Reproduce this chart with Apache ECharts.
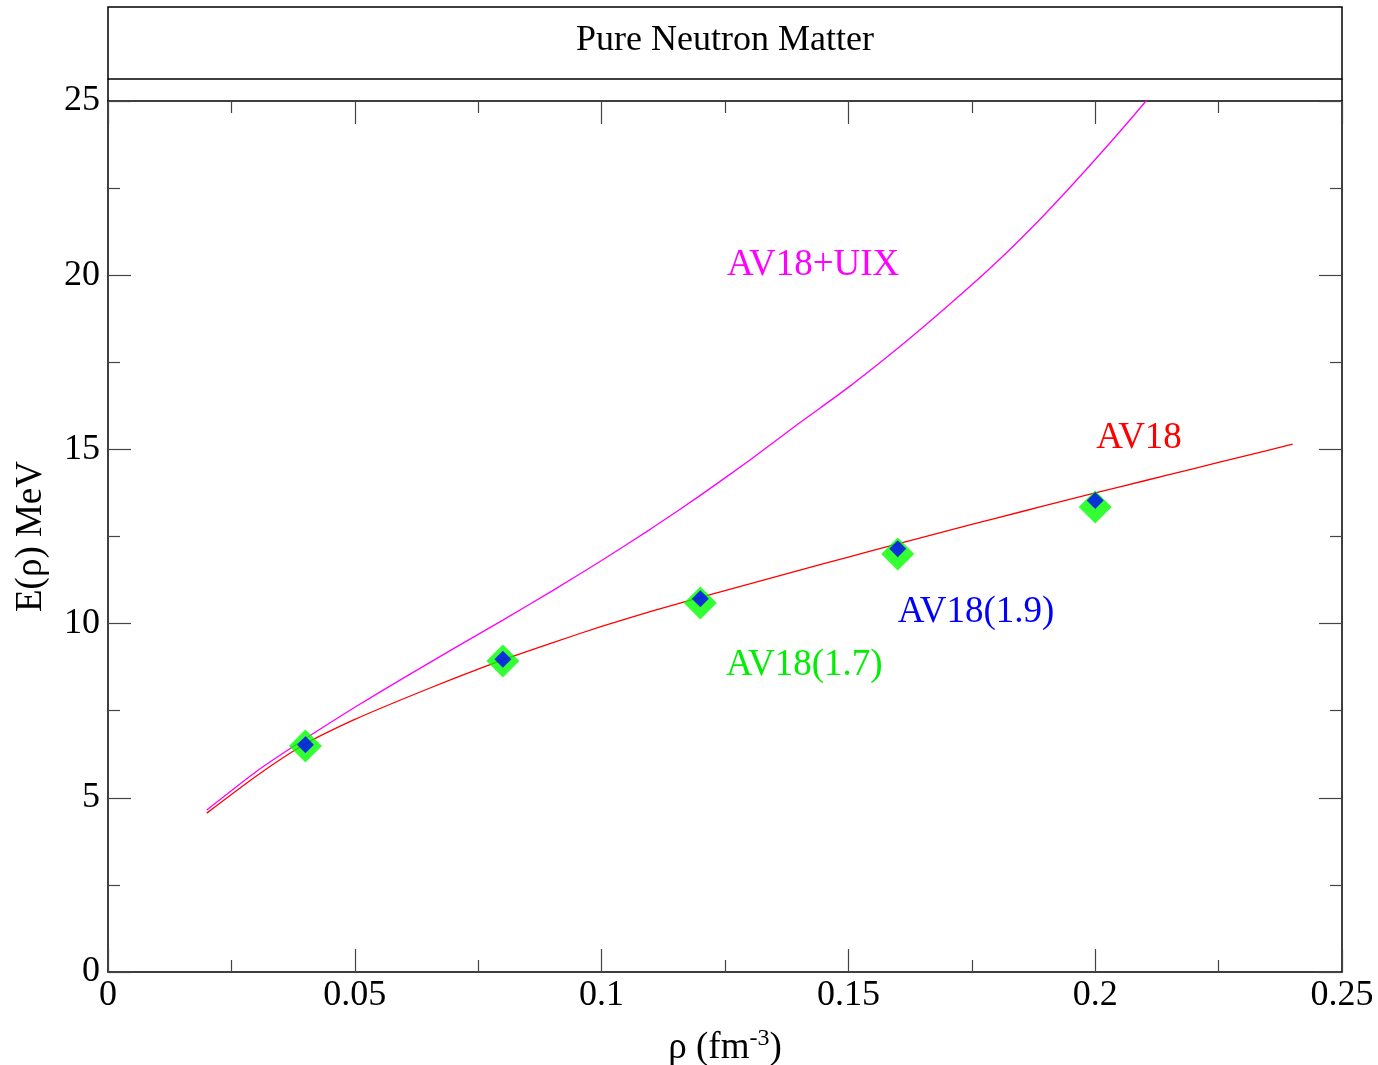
<!doctype html>
<html>
<head>
<meta charset="UTF-8">
<title>Pure Neutron Matter</title>
<script src="https://cdn.jsdelivr.net/npm/echarts@6/dist/echarts.min.js"></script>
<style>
  html, body { margin: 0; padding: 0; background: #fff; }
  #main { width: 1378px; height: 1065px; }
</style>
</head>
<body>
<div id="main"></div>
<script>
// densities (fm^-3) of the curves
var rhoLine = [0.02, 0.03, 0.04, 0.05, 0.06, 0.07, 0.08, 0.09, 0.10, 0.11, 0.12, 0.13,
               0.14, 0.15, 0.16, 0.17, 0.18, 0.19, 0.20, 0.21, 0.22, 0.23, 0.24];
// AV18 (red)
var av18 = [4.56, 5.62, 6.55, 7.25, 7.85, 8.42, 8.96, 9.45, 9.92, 10.35, 10.75, 11.14,
            11.53, 11.91, 12.29, 12.66, 13.03, 13.39, 13.75, 14.10, 14.45, 14.80, 15.15];
// AV18+UIX (magenta), runs out of the frame after 0.21
var rhoUix = [0.02, 0.03, 0.04, 0.05, 0.06, 0.07, 0.08, 0.09, 0.10, 0.11, 0.12, 0.13,
              0.14, 0.15, 0.16, 0.17, 0.18, 0.19, 0.20, 0.21, 0.22];
var av18uix = [4.65, 5.75, 6.70, 7.60, 8.45, 9.28, 10.10, 10.94, 11.81, 12.72, 13.68, 14.69,
               15.75, 16.78, 17.90, 19.10, 20.37, 21.78, 23.32, 24.95, 26.70];

// markers
var rhoPts = [0.04, 0.08, 0.12, 0.16, 0.20];
var av18_17 = [6.49, 8.93, 10.59, 12.00, 13.35];   // green
var av18_19 = [6.52, 8.98, 10.71, 12.15, 13.53];   // blue

// text labels: [text, x, y, colour]
var labels = [
  ['AV18+UIX', 0.1254, 20.29, '#ff00ff'],
  ['AV18', 0.2002, 15.33, '#ff0000'],
  ['AV18(1.9)', 0.1600, 10.33, '#0000ff'],
  ['AV18(1.7)', 0.1252, 8.81, '#00ee00']
];

var FONT = '"Liberation Serif", "Times New Roman", serif';

function pairs(xs, ys) {
  var out = [];
  for (var i = 0; i < xs.length; i++) out.push([xs[i], ys[i]]);
  return out;
}

function xAx(pos, showLabel) {
  return {
    type: 'value', position: pos, min: 0, max: 0.25, interval: 0.05,
    axisLine: { show: true, onZero: false, lineStyle: { color: '#000', width: 1.5 } },
    axisTick: { show: true, inside: true, length: 23, lineStyle: { color: '#444', width: 1.2 } },
    minorTick: { show: true, splitNumber: 2, length: 12, lineStyle: { color: '#444', width: 1.2 } },
    splitLine: { show: false },
    axisLabel: { show: showLabel, color: '#000', fontFamily: FONT, fontSize: 36, margin: 6 }
  };
}

function yAx(pos, showLabel) {
  return {
    type: 'value', position: pos, min: 0, max: 25, interval: 5,
    axisLine: { show: true, onZero: false, lineStyle: { color: '#000', width: 1.5 } },
    axisTick: { show: true, inside: true, length: 23, lineStyle: { color: '#444', width: 1.2 } },
    minorTick: { show: true, splitNumber: 2, length: 12, lineStyle: { color: '#444', width: 1.2 } },
    splitLine: { show: false },
    axisLabel: { show: showLabel, color: '#000', fontFamily: FONT, fontSize: 36, margin: 8 }
  };
}

var xBottom = xAx('bottom', true);
xBottom.name = '{a|ρ (fm}{s|-3}{a|)}';
xBottom.nameLocation = 'middle';
xBottom.nameGap = 55;
xBottom.nameTextStyle = {
  rich: {
    a: { fontFamily: FONT, fontSize: 37, color: '#000', verticalAlign: 'bottom', lineHeight: 40 },
    s: { fontFamily: FONT, fontSize: 24, color: '#000', verticalAlign: 'top', lineHeight: 40, padding: [0, 0, 16, 0] }
  }
};
var xTop = xAx('top', false);
var yLeft = yAx('left', true);
yLeft.name = 'E(ρ) MeV';
yLeft.nameLocation = 'middle';
yLeft.nameGap = 58;
yLeft.nameTextStyle = { fontFamily: FONT, fontSize: 37, color: '#000' };
var yRight = yAx('right', false);

var myChart = echarts.init(document.getElementById('main'));

var option = {
  backgroundColor: '#fff',
  animation: false,
  grid: { left: 108, right: 36, top: 101, bottom: 93, containLabel: false, outerBoundsMode: 'none' },
  xAxis: [xBottom, xTop],
  yAxis: [yLeft, yRight],
  series: [
    {
      name: 'AV18+UIX', type: 'line', data: pairs(rhoUix, av18uix),
      showSymbol: false, smooth: 0.2, clip: true,
      lineStyle: { color: '#ff00ff', width: 1.3 }
    },
    {
      name: 'AV18', type: 'line', data: pairs(rhoLine, av18),
      showSymbol: false, smooth: 0.2, clip: true,
      lineStyle: { color: '#ff0000', width: 1.3 }
    },
    {
      name: 'AV18(1.7)', type: 'scatter', data: pairs(rhoPts, av18_17),
      symbol: 'diamond', symbolSize: 33, z: 3,
      itemStyle: { color: '#00ff00' }
    },
    {
      name: 'AV18(1.9)', type: 'scatter', data: pairs(rhoPts, av18_19),
      symbol: 'diamond', symbolSize: 17, z: 4,
      itemStyle: { color: '#0000ff' }
    }
  ]
};

myChart.setOption(option);

// title box above the frame and the curve labels
var elements = [
  {
    type: 'rect',
    shape: { x: 108, y: 7, width: 1234, height: 72 },
    style: { fill: '#fff', stroke: '#000', lineWidth: 1.5 }
  },
  {
    type: 'text', x: 725, y: 41,
    style: { text: 'Pure Neutron Matter', fontFamily: FONT, fontSize: 36, fill: '#000',
             align: 'center', verticalAlign: 'middle' }
  },
  {
    type: 'line', shape: { x1: 108, y1: 79, x2: 108, y2: 101 },
    style: { stroke: '#000', lineWidth: 1.5 }
  },
  {
    type: 'line', shape: { x1: 1342, y1: 79, x2: 1342, y2: 101 },
    style: { stroke: '#000', lineWidth: 1.5 }
  }
];
labels.forEach(function (l) {
  var p = myChart.convertToPixel({ xAxisIndex: 0, yAxisIndex: 0 }, [l[1], l[2]]);
  elements.push({
    type: 'text', x: p[0], y: p[1],
    style: { text: l[0], fontFamily: FONT, fontSize: 37, fill: l[3],
             align: 'left', verticalAlign: 'middle' }
  });
});
myChart.setOption({ graphic: elements });
</script>
</body>
</html>
